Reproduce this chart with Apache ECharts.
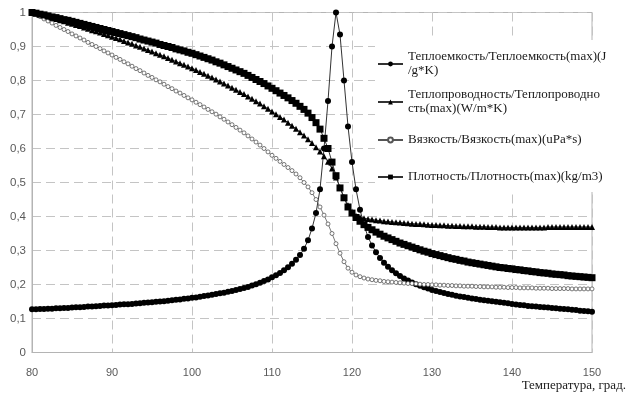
<!DOCTYPE html>
<html>
<head>
<meta charset="utf-8">
<script src="https://cdn.jsdelivr.net/npm/echarts@6/dist/echarts.min.js"></script>
<style>
html,body{margin:0;padding:0;background:#fff;}
#chart{width:629px;height:395px;}
</style>
</head>
<body>
<div id="chart"></div>
<script>
// Temperature, grad.
var temps = [
 80,80.5,81,81.5,82,82.5,83,83.5,84,84.5,85,85.5,86,86.5,87,87.5,88,88.5,89,89.5,
 90,90.5,91,91.5,92,92.5,93,93.5,94,94.5,95,95.5,96,96.5,97,97.5,98,98.5,99,99.5,
 100,100.5,101,101.5,102,102.5,103,103.5,104,104.5,105,105.5,106,106.5,107,107.5,108,108.5,109,109.5,
 110,110.5,111,111.5,112,112.5,113,113.5,114,114.5,115,115.5,116,116.5,117,117.5,118,118.5,119,119.5,
 120,120.5,121,121.5,122,122.5,123,123.5,124,124.5,125,125.5,126,126.5,127,127.5,128,128.5,129,129.5,
 130,130.5,131,131.5,132,132.5,133,133.5,134,134.5,135,135.5,136,136.5,137,137.5,138,138.5,139,139.5,
 140,140.5,141,141.5,142,142.5,143,143.5,144,144.5,145,145.5,146,146.5,147,147.5,148,148.5,149,149.5,
 150
];
// Теплоемкость / max
var heatCapacity = [
 .127,.127,.128,.128,.129,.129,.130,.130,.131,.131,.132,.133,.133,.134,.135,.135,.136,.137,.138,.138,
 .139,.140,.141,.142,.142,.143,.144,.145,.146,.147,.148,.149,.150,.151,.152,.154,.155,.156,.158,.159,
 .161,.162,.164,.166,.168,.170,.172,.174,.176,.179,.181,.184,.187,.190,.193,.197,.201,.205,.210,.215,
 .221,.227,.234,.242,.251,.261,.273,.287,.305,.330,.365,.410,.480,.600,.740,.900,1.0,.935,.800,.665,
 .560,.480,.420,.375,.340,.315,.295,.278,.264,.252,.242,.233,.225,.218,.212,.206,.201,.196,.192,.188,
 .184,.181,.178,.175,.172,.170,.167,.165,.163,.161,.159,.157,.155,.154,.152,.151,.149,.148,.146,.145,
 .143,.141,.140,.139,.137,.136,.135,.134,.133,.132,.131,.130,.129,.128,.127,.126,.125,.123,.122,.121,
 .120
];
// Теплопроводность / max
var conductivity = [
 1.000,.997,.994,.991,.987,.984,.981,.977,.974,.970,.967,.963,.960,.956,.952,.948,.945,.941,.937,.933,
 .929,.925,.921,.916,.912,.908,.903,.899,.894,.890,.885,.880,.876,.871,.866,.861,.856,.851,.846,.841,
 .836,.831,.825,.820,.814,.809,.803,.797,.791,.785,.779,.773,.766,.760,.753,.746,.739,.732,.724,.717,
 .709,.701,.693,.685,.676,.667,.658,.648,.638,.627,.616,.604,.591,.577,.561,.541,.515,.485,.457,.433,
 .413,.402,.398,.395,.393,.391,.389,.388,.386,.385,.384,.383,.382,.381,.380,.379,.378,.378,.377,.376,
 .375,.375,.374,.374,.373,.373,.372,.372,.371,.371,.371,.370,.370,.370,.369,.369,.369,.368,.368,.368,
 .368,.368,.368,.368,.368,.368,.368,.368,.368,.369,.369,.369,.369,.369,.369,.369,.369,.369,.369,.369,
 .369
];
// Вязкость / max
var viscosity = [
 1.000,.994,.988,.981,.975,.969,.962,.956,.950,.944,.937,.931,.925,.919,.912,.906,.900,.894,.887,.881,
 .875,.868,.862,.855,.849,.842,.835,.829,.822,.815,.809,.802,.796,.789,.782,.776,.769,.763,.756,.749,
 .743,.736,.729,.722,.715,.708,.701,.693,.686,.678,.670,.662,.654,.646,.637,.628,.619,.610,.600,.590,
 .580,.571,.562,.553,.544,.535,.525,.514,.500,.487,.470,.450,.428,.404,.378,.350,.320,.292,.267,.248,
 .236,.228,.223,.219,.216,.214,.212,.211,.209,.208,.207,.206,.205,.204,.203,.203,.202,.201,.200,.200,
 .199,.199,.198,.198,.197,.197,.196,.196,.195,.195,.195,.194,.194,.193,.193,.193,.192,.192,.192,.191,
 .191,.191,.190,.190,.190,.190,.189,.189,.189,.189,.188,.188,.188,.188,.188,.187,.187,.187,.187,.187,
 .187
];
// Плотность / max
var density = [
 1.000,.998,.995,.993,.990,.987,.985,.982,.979,.977,.974,.971,.968,.965,.962,.959,.956,.953,.950,.947,
 .944,.941,.938,.935,.932,.929,.926,.922,.919,.916,.913,.910,.906,.903,.900,.897,.893,.890,.887,.883,
 .880,.876,.872,.868,.864,.860,.855,.851,.846,.841,.836,.831,.826,.821,.815,.809,.803,.797,.791,.784,
 .777,.770,.763,.756,.749,.741,.733,.724,.715,.704,.691,.676,.657,.630,.600,.560,.520,.484,.455,.428,
 .410,.397,.386,.376,.368,.361,.354,.348,.342,.337,.332,.327,.322,.318,.314,.310,.306,.302,.298,.295,
 .291,.288,.285,.282,.279,.276,.274,.271,.269,.266,.264,.262,.260,.258,.256,.254,.252,.250,.249,.247,
 .246,.244,.243,.241,.240,.238,.237,.235,.234,.233,.231,.230,.229,.228,.226,.225,.224,.223,.222,.221,
 .220
];
var seriesNames = [
 'Теплоемкость/Теплоемкость(max)(J/g*K)',
 'Теплопроводность/Теплопроводность(max)(W/m*K)',
 'Вязкость/Вязкость(max)(uPa*s)',
 'Плотность/Плотность(max)(kg/m3)'
];
var legendLabels = [
 'Теплоемкость/Теплоемкость(max)(J\n/g*K)',
 'Теплопроводность/Теплопроводно\nсть(max)(W/m*K)',
 'Вязкость/Вязкость(max)(uPa*s)',
 'Плотность/Плотность(max)(kg/m3)'
];
var xTitle = 'Температура, град.';

function pairs(vals){ return temps.map(function(t,i){ return [t, vals[i]]; }); }

var chart = echarts.init(document.getElementById('chart'), null, {renderer:'canvas'});
var legendFont = {fontFamily:'Liberation Serif', fontSize:13, color:'#1a1a1a', lineHeight:14};
function mkLegend(i, top, twoLines){
  var ts = Object.assign({}, legendFont);
  if (twoLines) ts.padding = [14,0,0,0];
  return {
    data:[seriesNames[i]], left:377, top:top, padding:0, itemWidth:25, itemHeight:6, itemGap:0,
    formatter:function(){ return legendLabels[i]; },
    textStyle: ts, selectedMode:false
  };
}
var option = {
  animation:false,
  backgroundColor:'#fff',
  grid:{left:32, right:35, top:12.5, bottom:42.5, show:true, borderColor:'#b4b4b4', borderWidth:1},
  graphic:[{type:'rect', shape:{x:375, y:40, width:218, height:152}, style:{fill:'#fff'}, z:3, silent:true}],
  legend:[mkLegend(0,43,true), mkLegend(1,81,true), mkLegend(2,133,false), mkLegend(3,170,false)],
  xAxis:{
    type:'value', min:80, max:150, interval:10,
    name:xTitle, nameLocation:'end', nameGap:34,
    nameTextStyle:{fontFamily:'Liberation Serif', fontSize:13, color:'#1a1a1a', align:'right', verticalAlign:'top', padding:[27,0,0,0]},
    axisLine:{lineStyle:{color:'#b4b4b4'}},
    axisTick:{show:false},
    axisLabel:{color:'#595959', fontFamily:'Liberation Sans', fontSize:11, margin:15},
    splitLine:{show:true, lineStyle:{color:'#c4c4c4', type:[9,5], width:1}}
  },
  yAxis:{
    type:'value', min:0, max:1, interval:0.1,
    axisLine:{show:true, lineStyle:{color:'#b4b4b4'}},
    axisTick:{show:false},
    axisLabel:{color:'#595959', fontFamily:'Liberation Sans', fontSize:11.5, margin:6,
      formatter:function(v){ return String(Math.round(v*10)/10).replace('.',','); }},
    splitLine:{show:true, lineStyle:{color:'#c4c4c4', type:[9,5], width:1}}
  },
  series:[
    {name:seriesNames[0], type:'line', data:pairs(heatCapacity), symbol:'circle', symbolSize:6,
     itemStyle:{color:'#000'}, lineStyle:{color:'#333', width:1}, z:2},
    {name:seriesNames[1], type:'line', data:pairs(conductivity), symbol:'triangle', symbolSize:6,
     itemStyle:{color:'#000'}, lineStyle:{color:'#333', width:1}, z:2},
    {name:seriesNames[2], type:'line', data:pairs(viscosity), symbol:'circle', symbolSize:4,
     itemStyle:{color:'#fff', borderColor:'#555', borderWidth:0.8}, lineStyle:{color:'#555', width:0.8}, z:2},
    {name:seriesNames[3], type:'line', data:pairs(density), symbol:'rect', symbolSize:7,
     itemStyle:{color:'#000'}, lineStyle:{color:'#333', width:1}, z:2}
  ]
};
chart.setOption(option);
</script>
</body>
</html>
